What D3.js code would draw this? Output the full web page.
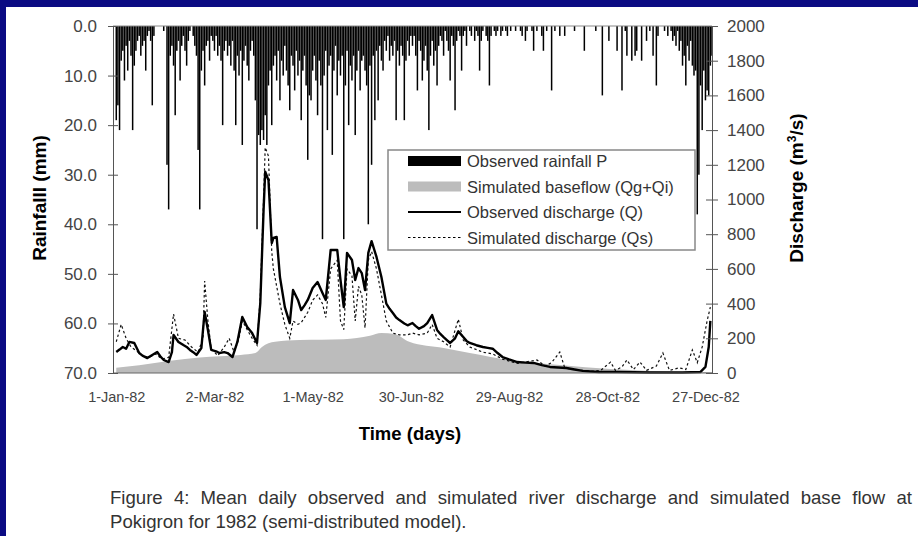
<!DOCTYPE html>
<html>
<head>
<meta charset="utf-8">
<script src="https://cdn.jsdelivr.net/npm/d3@7"></script>
<style>
  body { margin: 0; background: #0b0b83; }
  svg text { font-family: Arial, "Liberation Sans", sans-serif; }
</style>
</head>
<body>
<svg id="chart" width="918" height="536"></svg>
<script>
// axis ticks
const tickDays = [0, 60, 120, 180, 240, 300, 360];
const tickLabels = ["1-Jan-82", "2-Mar-82", "1-May-82", "30-Jun-82", "29-Aug-82", "28-Oct-82", "27-Dec-82"];
const rainTicks = [0, 10, 20, 30, 40, 50, 60, 70];
const dischargeTicks = [0, 200, 400, 600, 800, 1000, 1200, 1400, 1600, 1800, 2000];

// daily rainfall (mm), one array per month
const rainJan = [19,16,21,7,5,11,4,9,3,6,21,8,5,3,2,6,4,3,9,2,1,3,16,2,0,0,0,0,0,1,0];
const rainFeb = [28,37,6,4,8,18,5,3,11,4,2,5,8,3,1,0,2,4,6,25,37,9,5,12,4,3,7,2];
const rainMar = [3,5,2,6,4,7,20,5,3,6,4,8,3,9,20,6,10,5,24,7,4,8,11,5,3,6,15,41,22,24,21];
const rainApr = [23,18,24,12,9,20,8,6,11,5,15,7,10,4,9,12,17,6,8,13,5,10,7,19,9,6,12,27,14,15];
const rainMay = [9,6,11,18,7,12,43,10,5,21,8,6,26,9,4,14,7,10,6,43,12,5,20,8,11,6,22,9,5,13,7];
const rainJun = [6,9,12,40,8,28,6,19,5,15,4,7,9,3,5,2,7,4,6,3,19,5,8,4,6,19,7,3,6,2];
const rainJul = [4,2,6,13,3,5,11,7,4,9,21,6,3,8,5,12,4,2,3,6,1,3,5,11,2,4,17,3,1,2,9];
const rainAug = [2,1,4,0,1,2,0,3,1,2,9,3,1,0,2,3,12,2,0,1,2,1,0,2,1,0,1,2,0,1,0];
const rainSep = [0,1,0,0,1,2,0,3,1,0,0,1,5,0,1,0,0,2,5,0,1,0,0,13,0,1,0,0,2,0];
const rainOct = [0,2,0,0,0,0,0,1,0,0,0,0,0,5,0,0,0,0,0,0,1,0,0,0,14,0,0,0,3,0,0];
const rainNov = [0,0,5,0,0,13,0,1,6,0,0,7,0,6,5,0,0,7,0,0,3,0,1,0,6,0,12,2,0,0];
const rainDec = [0,1,0,2,0,1,3,2,4,1,5,3,8,6,12,4,7,3,8,10,9,38,30,12,21,9,15,13,14,8,6];

// discharge (m3/s) as [day of year, value]
const observedQ = [[0,121],[2,135],[4,150],[6,140],[8,179],[11,173],[14,115],[16,100],[19,86],[22,104],
  [25,121],[27,95],[29,75],[32,63],[34,120],[35,219],[38,179],[41,161],[43,150],[45,133],[47,120],
  [49,104],[52,144],[54,352],[56,248],[58,133],[61,125],[63,115],[66,120],[68,115],[71,92],[74,179],
  [77,323],[80,265],[83,230],[86,173],[88,403],[90,939],[91,1160],[93,1112],[95,749],[96,778],[98,784],
  [100,553],[103,380],[106,288],[108,478],[111,421],[113,363],[115,390],[117,421],[120,490],[123,524],
  [126,461],[128,421],[131,709],[135,709],[137,536],[139,380],[141,692],[144,651],[146,536],[148,605],
  [150,576],[152,478],[154,692],[156,760],[159,669],[162,553],[165,400],[167,370],[169,346],[171,320],
  [173,305],[176,285],[178,275],[181,288],[183,270],[185,255],[188,270],[190,288],[193,334],[196,248],
  [198,225],[200,207],[202,190],[204,173],[207,200],[209,240],[212,207],[214,185],[216,173],[220,160],
  [224,150],[227,145],[230,140],[233,115],[236,92],[240,78],[245,63],[250,60],[255,58],[260,45],
  [265,35],[270,32],[275,29],[280,20],[285,12],[290,9],[295,6],[306,6],[326,3],[346,3],[357,6],
  [360,35],[362,150],[363,300]];
const simulatedQs = [[0,180],[3,280],[6,200],[9,150],[12,130],[16,100],[20,90],[24,110],[28,80],[32,90],
  [35,340],[38,200],[42,190],[46,150],[50,120],[53,200],[54,530],[56,300],[58,140],[62,100],[66,150],
  [69,200],[72,120],[75,200],[77,300],[80,250],[83,200],[86,160],[88,450],[90,1000],[91,1300],[93,1250],
  [95,700],[96,600],[98,500],[100,400],[103,280],[106,200],[108,300],[111,280],[113,290],[117,350],
  [120,420],[123,450],[126,400],[128,320],[131,600],[135,650],[137,300],[139,250],[141,600],[144,560],
  [146,300],[148,500],[150,450],[152,260],[154,650],[156,700],[159,600],[162,450],[165,300],[169,230],
  [173,220],[178,220],[181,230],[185,220],[190,230],[193,280],[196,200],[200,180],[204,150],[209,310],
  [212,190],[216,150],[224,120],[230,110],[236,80],[245,55],[257,75],[262,40],[266,60],[271,121],[274,30],
  [280,20],[290,10],[296,15],[302,63],[305,15],[309,35],[312,75],[316,20],[320,63],[324,15],[330,40],
  [334,115],[338,15],[344,30],[348,20],[352,133],[355,60],[358,150],[361,300],[363,380]];
const baseflow = [[0,30],[14,45],[33,70],[51,90],[76,104],[85,115],[89,150],[97,180],[112,190],[139,195],
  [155,215],[162,230],[170,225],[179,180],[200,144],[216,115],[240,75],[271,46],[302,23],[326,12],
  [357,6],[364,5]];

const legendItems = ["Observed rainfall P", "Simulated baseflow (Qg+Qi)", "Observed discharge (Q)", "Simulated discharge (Qs)"];

const rainfall = [].concat(rainJan, rainFeb, rainMar, rainApr, rainMay, rainJun,
                           rainJul, rainAug, rainSep, rainOct, rainNov, rainDec);

const svg = d3.select("#chart");

// white page over the blue slide background
svg.append("rect")
  .attr("x", 6).attr("y", 7)
  .attr("width", 912).attr("height", 529)
  .attr("fill", "#ffffff");

const x = d3.scaleLinear().domain([-2, 364]).range([113, 712]);
const yRain = d3.scaleLinear().domain([0, 70]).range([26, 373]);
const yQ = d3.scaleLinear().domain([0, 2000]).range([373, 26]);

// baseflow area
const area = d3.area()
  .x(d => x(d[0]))
  .y0(yQ(0))
  .y1(d => yQ(d[1]))
  .curve(d3.curveMonotoneX);

svg.append("path")
  .datum(baseflow)
  .attr("fill", "#bcbcbc")
  .attr("d", area);

// rainfall bars hanging from the top
svg.append("g")
  .selectAll("rect")
  .data(rainfall)
  .enter().append("rect")
    .attr("x", (d, i) => x(i) - 0.75)
    .attr("y", yRain(0))
    .attr("width", 1.5)
    .attr("height", d => yRain(d) - yRain(0))
    .attr("fill", "#000");

// discharge lines
const line = d3.line()
  .x(d => x(d[0]))
  .y(d => yQ(d[1]));

svg.append("path")
  .datum(simulatedQs)
  .attr("fill", "none")
  .attr("stroke", "#111")
  .attr("stroke-width", 1.2)
  .attr("stroke-dasharray", "2.5,2.5")
  .attr("d", line);

svg.append("path")
  .datum(observedQ)
  .attr("fill", "none")
  .attr("stroke", "#000")
  .attr("stroke-width", 2.4)
  .attr("stroke-linejoin", "round")
  .attr("d", line);

// top line (rainfall zero)
svg.append("line")
  .attr("x1", 113).attr("x2", 712)
  .attr("y1", yRain(0)).attr("y2", yRain(0))
  .attr("stroke", "#888").attr("stroke-width", 1);

// x axis
const xAxis = svg.append("g")
  .attr("transform", `translate(0,${yQ(0)})`)
  .call(d3.axisBottom(x).tickValues(tickDays).tickFormat((d, i) => tickLabels[i]).tickSize(0).tickPadding(19));
xAxis.select(".domain").attr("stroke", "#666").attr("d", "M113,0H712");
xAxis.selectAll("text")
  .style("font-size", "14.5px")
  .attr("fill", "#444");

// left axis (rainfall)
const leftAxis = svg.append("g")
  .attr("transform", "translate(113,0)")
  .call(d3.axisLeft(yRain).tickValues(rainTicks).tickFormat(d3.format(".1f")).tickSize(5).tickPadding(11));
leftAxis.select(".domain").attr("stroke", "#555");
leftAxis.selectAll(".tick line").attr("x1", 5).attr("stroke", "#555");
leftAxis.selectAll("text")
  .style("font-size", "17px")
  .attr("fill", "#444");

// right axis (discharge)
const rightAxis = svg.append("g")
  .attr("transform", "translate(712,0)")
  .call(d3.axisRight(yQ).tickValues(dischargeTicks).tickFormat(d3.format("d")).tickSize(6).tickPadding(9));
rightAxis.select(".domain").attr("stroke", "#555");
rightAxis.selectAll(".tick line").attr("x1", -6).attr("stroke", "#555");
rightAxis.selectAll("text")
  .style("font-size", "17px")
  .attr("fill", "#444");

// axis titles
svg.append("text")
  .attr("transform", "translate(46,198) rotate(-90)")
  .attr("text-anchor", "middle")
  .style("font-size", "19px")
  .style("font-weight", "bold")
  .text("Rainfalll (mm)");

const qTitle = svg.append("text")
  .attr("transform", "translate(803,188) rotate(-90)")
  .attr("text-anchor", "middle")
  .style("font-size", "19px")
  .style("font-weight", "bold");
qTitle.append("tspan").text("Discharge (m");
qTitle.append("tspan").attr("dy", -7).style("font-size", "12px").text("3");
qTitle.append("tspan").attr("dy", 7).text("/s)");

svg.append("text")
  .attr("x", 410).attr("y", 440)
  .attr("text-anchor", "middle")
  .style("font-size", "18.5px")
  .style("font-weight", "bold")
  .text("Time (days)");

// legend
const legend = svg.append("g").attr("transform", "translate(388,150)");
legend.append("rect")
  .attr("width", 307).attr("height", 100)
  .attr("fill", "#fff")
  .attr("stroke", "#888").attr("stroke-width", 1.5);

legendItems.forEach((label, i) => {
  const g = legend.append("g").attr("transform", `translate(0,${11 + i * 25.5})`);
  if (i === 0 || i === 1) {
    g.append("rect")
      .attr("x", 20).attr("y", -5)
      .attr("width", 53).attr("height", 10)
      .attr("fill", i === 0 ? "#000" : "#bcbcbc");
  } else {
    g.append("line")
      .attr("x1", 20).attr("x2", 73)
      .attr("stroke", "#000")
      .attr("stroke-width", i === 2 ? 2 : 1.2)
      .attr("stroke-dasharray", i === 3 ? "2.5,2.5" : null);
  }
  g.append("text")
    .attr("x", 79).attr("y", 6)
    .style("font-size", "16.5px")
    .attr("fill", "#333")
    .text(label);
});

// caption, first line justified by widening the word gaps
const captionLine1 = "Figure 4: Mean daily observed and simulated river discharge and simulated base flow at";
const cap1 = svg.append("text")
  .attr("x", 110).attr("y", 504)
  .style("font-size", "18.6px")
  .attr("fill", "#333")
  .text(captionLine1);
const gaps = captionLine1.split(" ").length - 1;
const natural = cap1.node().getComputedTextLength();
cap1.style("word-spacing", `${Math.max(0, (802 - natural) / gaps)}px`);

svg.append("text")
  .attr("x", 110).attr("y", 528)
  .style("font-size", "18.6px")
  .attr("fill", "#333")
  .text("Pokigron for 1982 (semi-distributed model).");
</script>
</body>
</html>
